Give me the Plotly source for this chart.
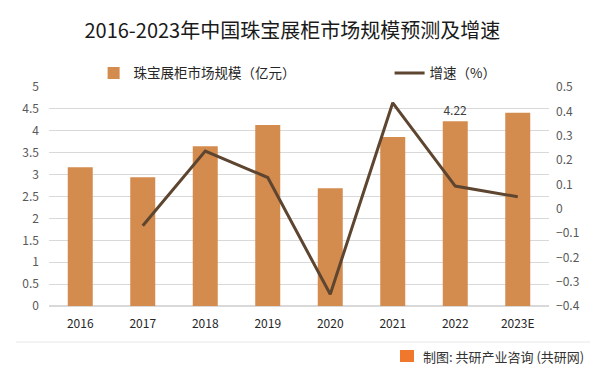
import plotly.graph_objects as go

years = ["2016", "2017", "2018", "2019", "2020", "2021", "2022", "2023E"]
market_size = [3.17, 2.94, 3.65, 4.13, 2.69, 3.86, 4.22, 4.41]
growth = [None, -0.07, 0.237, 0.128, -0.352, 0.435, 0.093, 0.049]
label_year = "2022"

bar_text = [f"{v:.2f}" if y == label_year else "" for y, v in zip(years, market_size)]

FONT = "Noto Sans CJK SC, Noto Sans, sans-serif"
BAR_COLOR = "#D38B4E"
LINE_COLOR = "#5E4530"

# plot area in pixels (for placing footer items in paper coordinates)
L, R, T, B = 49, 549, 87, 306
def px(x):
    return (x - L) / (R - L)
def py(y):
    return (B - y) / (B - T)

fig = go.Figure()
fig.add_trace(go.Bar(
    x=years, y=market_size, name="珠宝展柜市场规模（亿元）",
    marker=dict(color=BAR_COLOR, line=dict(width=0)),
    text=bar_text, textposition="outside", cliponaxis=False,
    textfont=dict(size=12, color="#404040", family=FONT),
    legend="legend",
))
fig.add_trace(go.Scatter(
    x=years, y=growth, name="增速（%）", mode="lines",
    line=dict(color=LINE_COLOR, width=3),
    yaxis="y2", legend="legend2",
))

fig.update_layout(
    width=604, height=376,
    margin=dict(l=L, r=604 - R, t=T, b=376 - B, autoexpand=False),
    paper_bgcolor="white", plot_bgcolor="white",
    bargap=0.6,
    showlegend=True,
    title=dict(text="2016-2023年中国珠宝展柜市场规模预测及增速",
               x=0.484, xanchor="center", xref="container",
               y=0.917, yanchor="middle", yref="container",
               font=dict(size=20, color="#1a1a1a", family=FONT)),
    legend=dict(orientation="h", x=0.155, xref="container", xanchor="left",
                y=0.805, yref="container", yanchor="middle",
                font=dict(size=13.5, color="#262626", family=FONT),
                bgcolor="rgba(0,0,0,0)"),
    legend2=dict(orientation="h", x=0.645, xref="container", xanchor="left",
                 y=0.805, yref="container", yanchor="middle",
                 font=dict(size=13.5, color="#262626", family=FONT),
                 bgcolor="rgba(0,0,0,0)"),
    xaxis=dict(showgrid=False, showline=False, ticks="", ticklabelstandoff=9,
               tickfont=dict(size=12, color="#262626", family=FONT)),
    yaxis=dict(range=[0, 5], dtick=0.5, showgrid=True, gridcolor="#D9D9D9",
               gridwidth=1, zeroline=True, zerolinecolor="#D9D9D9", showline=False,
               ticklabelstandoff=9,
               tickfont=dict(size=12, color="#595959", family=FONT),
               tickformat="~g"),
    yaxis2=dict(range=[-0.4, 0.5], dtick=0.1, overlaying="y", side="right",
                showgrid=False, zeroline=False, showline=False,
                ticklabelstandoff=6,
                tickfont=dict(size=12, color="#595959", family=FONT),
                tickformat="~g"),
)

# footer separator and source
fig.add_shape(type="line", xref="paper", yref="paper",
              x0=px(16), x1=px(590), y0=py(342), y1=py(342),
              line=dict(color="#E8E8E8", width=1))
fig.add_shape(type="rect", xref="paper", yref="paper",
              x0=px(400), x1=px(414), y0=py(362), y1=py(350),
              fillcolor="#F0782D", line=dict(width=0))
fig.add_annotation(text="制图: 共研产业咨询 (共研网)", xref="paper", yref="paper",
                   x=px(421), y=py(356), xanchor="left", yanchor="middle",
                   showarrow=False, font=dict(size=13, color="#333333", family=FONT))

fig.write_html("out.html", config={"displayModeBar": False},
               post_script="document.body.style.margin='0';")
